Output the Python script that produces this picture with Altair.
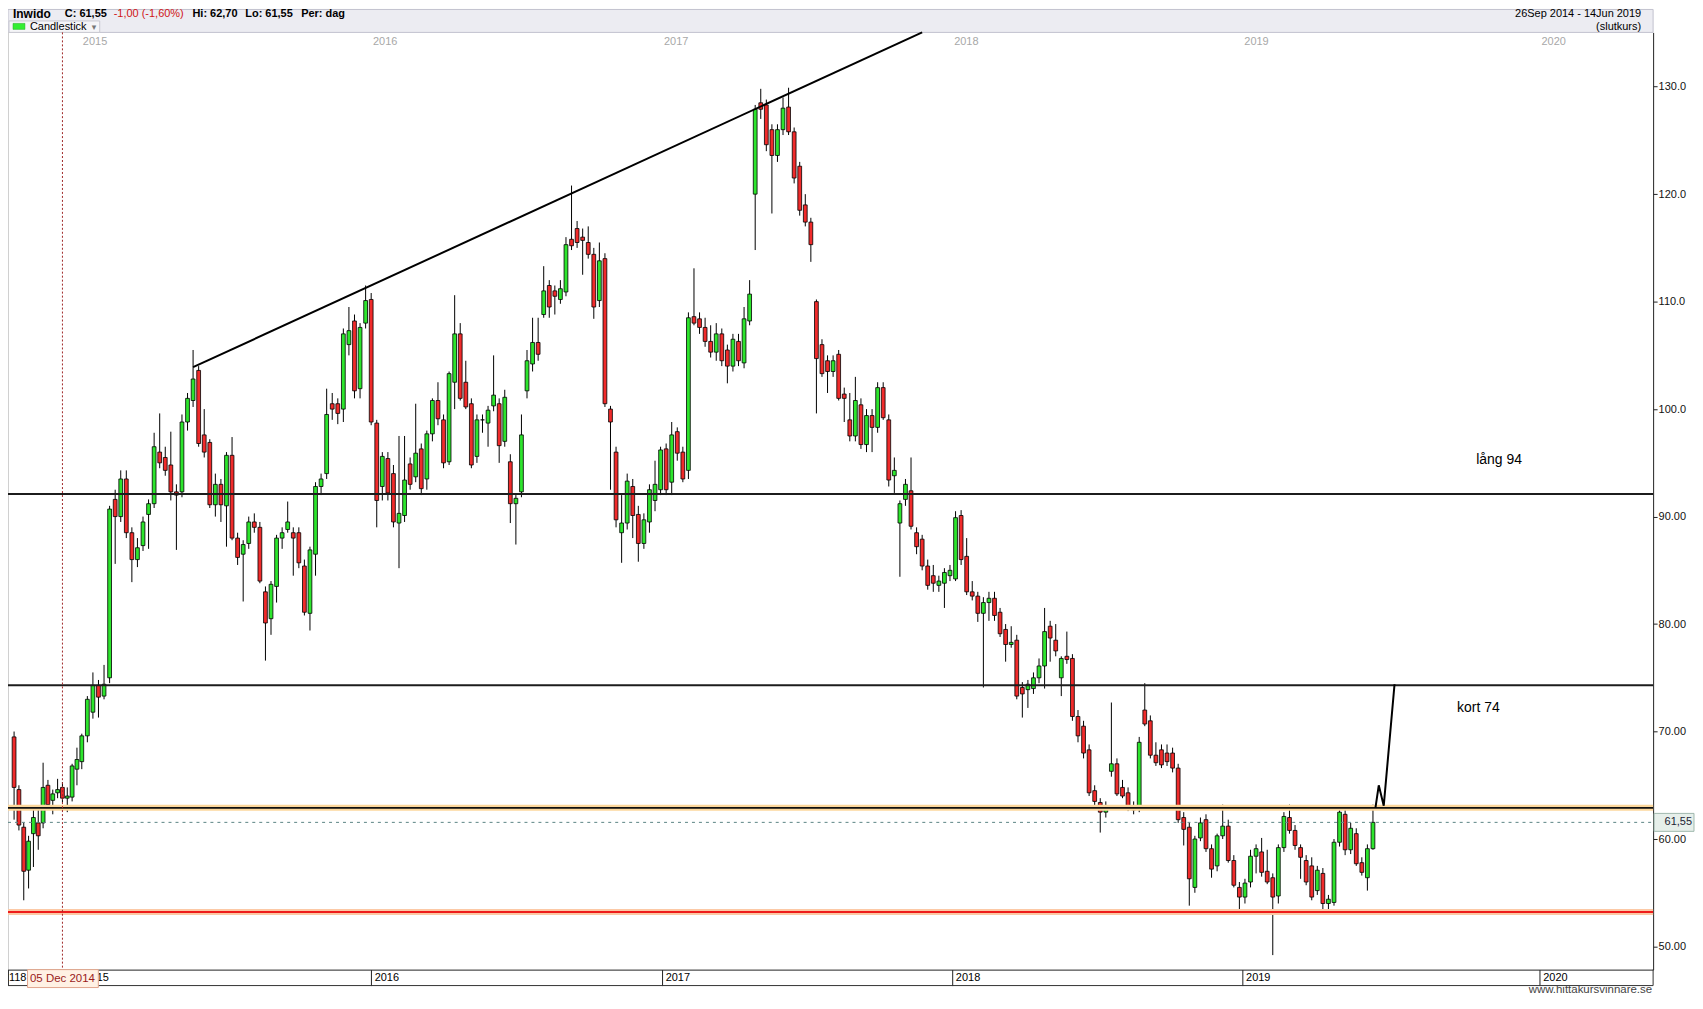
import altair as alt
import pandas as pd

# ---------------- data (weekly candles) ----------------
week_dates = pd.date_range("2014-09-26", "2019-06-14", freq="7D")

opens = [
    69.5, 64.6, 61.1, 57.1, 60.5, 61.5, 61.5, 65.0, 63.6, 64.3,
    64.8, 63.8, 63.9, 66.5, 67.2, 69.6, 71.8, 74.3, 73.3, 75.0,
    91.6, 90.0, 93.5, 88.5, 86.0, 87.3, 90.2, 91.2, 96.0, 95.5,
    94.8, 92.3, 92.3, 98.8, 100.8, 103.6, 97.6, 96.9, 91.1, 93.0,
    91.0, 95.7, 88.0, 86.5, 87.5, 89.5, 89.0, 83.0, 80.5, 83.5,
    88.0, 88.8, 88.5, 88.5, 85.4, 81.0, 86.5, 92.8, 94.0, 100.5,
    100.5, 100.0, 106.0, 108.2, 101.9, 108.0, 110.2, 98.7, 92.8, 95.4,
    94.0, 89.4, 90.1, 94.9, 93.7, 96.3, 93.5, 97.7, 100.8, 99.0,
    95.1, 102.5, 107.0, 102.5, 100.5, 95.6, 99.0, 98.7, 100.3, 100.5,
    97.0, 95.1, 91.2, 92.3, 101.7, 104.2, 106.2, 108.8, 111.5, 111.0,
    110.2, 110.9, 115.8, 116.8, 116.0, 115.5, 114.4, 110.1, 114.0, 100.0,
    96.0, 88.5, 89.4, 92.8, 90.2, 87.5, 89.5, 91.5, 92.5, 96.3,
    93.2, 97.9, 96.0, 94.3, 108.6, 108.4, 107.6, 106.3, 105.3, 107.0,
    105.5, 104.0, 106.3, 104.3, 108.2, 120.0, 128.5, 128.3, 126.0, 123.6,
    126.0, 128.1, 125.8, 122.6, 119.0, 117.4, 110.0, 106.0, 104.5, 103.5,
    105.1, 101.4, 99.0, 97.5, 100.4, 96.7, 99.4, 98.3, 102.0, 99.0,
    93.8, 89.4, 91.6, 92.4, 88.5, 87.9, 85.4, 84.5, 83.6, 83.8,
    84.5, 84.2, 90.1, 86.3, 83.0, 82.6, 81.0, 82.0, 82.4, 81.1,
    79.5, 78.1, 78.5, 74.1, 73.9, 74.0, 75.0, 76.1, 79.8, 78.5,
    75.0, 77.0, 76.8, 71.4, 70.5, 68.3, 64.5, 63.4, 62.5, 66.3,
    67.0, 64.8, 64.3, 63.0, 62.9, 72.0, 71.0, 67.8, 68.3, 68.0,
    68.0, 66.6, 62.0, 61.1, 55.5, 60.1, 61.8, 59.1, 57.5, 60.3,
    61.2, 58.0, 55.5, 54.6, 56.0, 58.4, 58.8, 57.0, 56.4, 54.7,
    59.2, 62.0, 60.8, 59.2, 58.0, 57.5, 55.2, 56.8, 54.0, 54.1,
    59.7, 62.3, 59.0, 60.5, 57.8, 56.4, 59.1,
]
highs = [
    70.0, 65.0, 61.5, 60.3, 62.8, 63.0, 67.1, 65.5, 64.6, 65.6,
    65.3, 64.8, 67.0, 68.5, 69.8, 73.3, 75.5, 74.8, 76.2, 91.0,
    92.5, 94.3, 94.3, 89.0, 88.0, 90.0, 91.6, 97.8, 99.6, 96.5,
    97.9, 93.0, 99.5, 101.5, 105.5, 104.0, 100.0, 97.2, 94.0, 93.5,
    96.0, 97.4, 88.5, 87.8, 90.0, 90.3, 89.5, 83.5, 84.0, 88.3,
    89.0, 91.4, 89.0, 89.0, 86.0, 87.2, 93.2, 94.0, 101.9, 101.5,
    101.0, 107.5, 109.5, 108.8, 108.0, 111.5, 110.8, 99.0, 96.0, 96.0,
    94.8, 97.5, 97.5, 95.5, 100.5, 96.8, 98.0, 101.0, 102.5, 99.5,
    103.5, 110.6, 108.0, 104.5, 101.0, 99.5, 99.5, 100.3, 105.0, 101.0,
    101.8, 95.8, 92.0, 99.5, 105.5, 108.5, 108.5, 113.3, 112.0, 111.5,
    112.0, 116.0, 120.8, 117.5, 116.8, 117.0, 115.0, 115.5, 114.5, 100.3,
    96.5, 92.0, 94.0, 93.5, 91.0, 90.3, 93.0, 95.2, 96.5, 96.8,
    98.8, 98.3, 96.5, 109.0, 113.1, 109.0, 108.5, 107.8, 108.0, 107.5,
    106.0, 107.0, 107.0, 109.5, 112.0, 128.3, 129.8, 128.8, 126.5, 126.5,
    129.0, 129.9, 126.2, 123.0, 120.0, 117.8, 110.2, 106.5, 105.0, 105.0,
    105.5, 102.0, 101.5, 103.0, 101.0, 100.0, 100.0, 102.5, 102.5, 99.5,
    95.5, 91.5, 93.5, 95.5, 89.0, 88.3, 86.0, 85.5, 84.5, 85.2,
    85.5, 90.5, 90.6, 88.0, 84.0, 83.0, 82.5, 83.0, 83.0, 81.5,
    80.0, 79.8, 79.0, 74.6, 74.8, 75.5, 76.8, 81.5, 80.3, 80.0,
    77.0, 79.3, 77.2, 72.0, 71.0, 68.8, 65.0, 63.8, 63.5, 72.7,
    67.5, 65.5, 64.8, 63.5, 69.5, 74.5, 71.5, 69.0, 68.8, 68.8,
    68.5, 67.0, 62.5, 61.5, 60.3, 62.0, 62.3, 59.5, 60.5, 63.2,
    61.8, 58.5, 56.0, 56.3, 59.0, 59.5, 60.1, 59.0, 56.8, 59.5,
    62.5, 63.2, 61.3, 59.5, 58.5, 58.3, 57.5, 57.3, 54.8, 60.0,
    63.1, 62.8, 61.5, 61.0, 58.3, 59.5, 63.2,
]
lows = [
    61.8, 60.8, 54.3, 55.4, 57.4, 59.0, 61.0, 62.8, 62.3, 63.8,
    63.4, 62.5, 63.5, 65.0, 66.5, 69.0, 71.2, 71.3, 73.0, 74.5,
    85.6, 89.5, 88.0, 83.9, 85.3, 86.8, 87.0, 90.8, 94.5, 93.8,
    91.5, 86.9, 91.8, 98.0, 100.2, 96.5, 95.5, 90.8, 90.0, 89.5,
    87.2, 87.8, 85.5, 82.1, 87.0, 88.5, 83.8, 76.6, 79.0, 82.0,
    87.0, 88.5, 84.5, 85.2, 80.8, 79.4, 84.5, 92.0, 93.5, 99.0,
    98.6, 98.8, 105.0, 101.0, 101.0, 107.5, 98.5, 89.0, 91.5, 91.5,
    89.0, 85.2, 89.5, 92.5, 93.2, 92.0, 92.5, 97.0, 98.5, 94.5,
    94.8, 100.0, 100.8, 100.0, 94.5, 95.0, 97.8, 96.5, 99.8, 95.0,
    96.5, 89.4, 87.4, 91.8, 101.0, 103.5, 104.5, 108.5, 108.5, 108.8,
    109.8, 110.5, 114.8, 115.0, 112.5, 114.0, 108.4, 109.5, 100.2, 92.5,
    89.0, 85.7, 88.8, 88.0, 85.8, 87.0, 88.5, 90.5, 92.0, 92.0,
    92.0, 95.2, 93.2, 93.5, 107.8, 107.0, 105.8, 104.8, 104.5, 104.0,
    102.4, 103.5, 104.0, 103.8, 107.8, 114.8, 127.0, 124.0, 118.2, 123.0,
    125.5, 125.5, 121.0, 118.0, 117.0, 113.7, 99.6, 103.0, 101.5, 103.0,
    100.8, 98.8, 97.0, 97.0, 96.3, 96.0, 96.0, 97.8, 99.0, 92.8,
    92.2, 84.4, 91.0, 88.8, 86.5, 85.0, 83.2, 83.0, 83.0, 81.5,
    84.0, 84.0, 85.5, 82.7, 82.2, 80.2, 74.1, 80.3, 80.3, 78.8,
    76.5, 77.8, 73.0, 71.3, 72.2, 73.5, 74.5, 74.0, 76.5, 77.0,
    73.3, 76.3, 71.0, 69.0, 67.5, 64.0, 63.0, 60.6, 62.0, 65.8,
    64.0, 63.8, 62.6, 62.3, 62.5, 70.5, 67.5, 66.8, 66.6, 66.8,
    66.2, 61.5, 59.4, 53.8, 55.0, 59.8, 58.8, 56.4, 57.0, 60.0,
    57.8, 55.5, 53.0, 54.0, 55.5, 56.8, 56.5, 55.8, 49.2, 54.0,
    58.8, 60.5, 59.0, 56.3, 55.7, 54.3, 54.8, 53.0, 53.3, 53.8,
    59.3, 58.5, 58.6, 57.5, 56.6, 55.2, 59.0,
]
closes = [
    64.8, 61.3, 57.0, 59.8, 62.0, 60.3, 64.8, 63.2, 64.2, 64.6,
    63.8, 64.0, 66.8, 67.4, 69.6, 73.0, 74.3, 73.2, 74.4, 90.7,
    90.0, 93.5, 88.5, 86.0, 87.1, 89.5, 91.2, 96.5, 95.0, 94.3,
    92.3, 92.0, 98.8, 101.0, 102.8, 96.8, 96.0, 91.1, 93.0, 91.1,
    95.7, 88.0, 86.2, 87.4, 89.5, 89.0, 84.0, 80.1, 83.7, 88.0,
    88.5, 89.5, 88.0, 85.7, 81.1, 86.9, 92.8, 93.5, 99.5, 100.0,
    99.6, 107.0, 107.3, 101.7, 107.6, 110.1, 98.8, 91.5, 95.6, 92.2,
    89.5, 90.3, 93.4, 93.0, 95.9, 92.6, 97.7, 100.8, 99.1, 95.0,
    103.3, 107.0, 101.0, 100.2, 94.8, 99.0, 99.0, 99.9, 101.3, 96.6,
    101.1, 91.2, 91.7, 97.6, 104.5, 106.2, 105.1, 111.0, 109.5, 110.5,
    111.2, 115.3, 115.2, 115.5, 115.7, 114.4, 109.5, 113.8, 100.5, 98.8,
    89.7, 89.4, 93.3, 90.1, 87.5, 89.7, 92.5, 93.0, 96.2, 92.5,
    97.6, 95.9, 93.5, 108.5, 108.0, 107.6, 106.3, 105.3, 107.0, 104.5,
    104.0, 106.5, 104.5, 108.4, 110.7, 127.9, 127.9, 124.6, 123.6, 126.0,
    128.0, 125.8, 121.5, 118.5, 117.4, 115.3, 104.7, 103.3, 103.5, 104.5,
    101.0, 101.0, 97.5, 100.8, 96.7, 99.4, 98.3, 102.0, 99.2, 93.4,
    94.3, 91.2, 93.0, 89.1, 87.2, 85.4, 83.6, 83.8, 84.0, 84.8,
    85.0, 89.9, 86.0, 83.0, 82.6, 81.0, 82.0, 82.4, 80.8, 79.1,
    78.1, 78.3, 73.3, 73.5, 74.4, 75.0, 76.1, 79.3, 78.7, 77.5,
    76.8, 76.7, 71.4, 69.6, 68.0, 64.3, 63.5, 62.5, 63.1, 67.0,
    64.2, 64.0, 62.9, 62.7, 69.0, 70.7, 67.8, 67.1, 66.9, 67.2,
    66.6, 61.8, 60.9, 56.3, 60.0, 61.5, 59.1, 57.2, 60.3, 61.2,
    58.0, 55.7, 54.6, 55.9, 58.4, 59.1, 56.9, 56.0, 54.6, 59.2,
    62.1, 60.8, 59.4, 58.3, 56.0, 54.6, 57.1, 54.0, 54.4, 59.7,
    62.5, 59.0, 61.0, 57.7, 56.9, 59.1, 61.55,
]

# drawn lines / levels
level_dark = [92.1, 74.3]          # "lång 94" and "kort 74" lines
level_gold = [62.9]
level_red = [53.2]
last_close = [61.55]
trend_dates = ["2015-05-22", "2017-11-24"]
trend_values = [103.9, 135.05]
proj_dates = ["2019-06-17", "2019-06-21", "2019-06-27", "2019-07-10"]
proj_values = [62.9, 65.0, 63.1, 74.4]
label_dates = ["2019-11-13", "2019-10-19"]
label_values = [95.3, 72.15]
label_texts = ["lång 94", "kort 74"]
year_starts = ["2015-01-01", "2016-01-01", "2017-01-01", "2018-01-01", "2019-01-01", "2020-01-01"]
year_texts = ["2015", "2016", "2017", "2018", "2019", "2020"]
marker_date = ["2014-12-05"]

# ---------------- x position: days since first session ----------------
BASE = pd.Timestamp("2014-09-26")

def days(values):
    return [(pd.Timestamp(v) - BASE).days for v in values]

# the source chart squeezes the first weeks a little and shows calendar time after the last
# session, so the day axis is mapped piecewise onto the plot width
x_scale = alt.Scale(
    domain=[-2.5] + days(["2015-01-02", "2019-06-14", "2020-01-01"]) + [2064.5],
    range=[0, 74, 1369, 1536.3, 1650],
    nice=False, zero=False,
)

# ---------------- styling ----------------
W, H = 1650, 940
GREEN = "#2de52d"
RED = "#f02b2b"
FONT = "Liberation Sans"

y_scale = alt.Scale(domain=[47.85, 135.05], nice=False, zero=False)

x_axis = alt.Axis(
    values=days(year_starts),
    labelExpr="'' + (2015 + round((datum.value - 97) / 365.25))",
    labelAlign="left", labelBaseline="middle", labelPadding=-8, labelOffset=3,
    tickSize=16, tickColor="#222", tickWidth=1, domainColor="#222", domainWidth=1,
    labelColor="black", labelFont=FONT, labelFontSize=11,
    labelFlush=False, labelOverlap=False, grid=False, title=None,
)
y_axis = alt.Axis(
    orient="right", values=list(range(50, 131, 10)),
    labelExpr="datum.value >= 100 ? format(datum.value, '.1f') : format(datum.value, '.2f')",
    tickSize=4, tickColor="#222", domainColor="#222", labelPadding=1,
    labelFont=FONT, labelFontSize=11, labelColor="#111", grid=False, title=None,
)

df = pd.DataFrame({"d": days(week_dates), "open": opens, "high": highs, "low": lows, "close": closes})
one = pd.DataFrame({"k": [0]})

def txt(text, x, y, size=11, weight="normal", color="black", align="left", font=FONT):
    return alt.Chart(one).mark_text(
        text=text, align=align, baseline="middle", fontSize=size, fontWeight=weight, color=color, font=font
    ).encode(x=alt.value(x), y=alt.value(y))

layers = []

# header
layers.append(alt.Chart(one).mark_rect(fill="#ececf2", stroke="#c2c2ce", strokeWidth=1).encode(
    x=alt.value(0), x2=alt.value(W), y=alt.value(-23), y2=alt.value(0)))
layers.append(alt.Chart(one).mark_rect(fill="#f5f5f8", stroke="#c8c8d2", strokeWidth=1).encode(
    x=alt.value(1), x2=alt.value(92), y=alt.value(-11.5), y2=alt.value(0)))
layers.append(alt.Chart(one).mark_rect(fill="#33ee33", stroke="#22aa22", strokeWidth=0.5).encode(
    x=alt.value(5), x2=alt.value(17), y=alt.value(-9), y2=alt.value(-3)))
layers += [
    txt("Inwido", 5, -18, size=12, weight="bold"),
    txt("C: 61,55", 57, -18, weight="bold"),
    txt("-1,00 (-1,60%)", 106, -18, color="#d01515"),
    txt("Hi: 62,70", 185, -18, weight="bold"),
    txt("Lo: 61,55", 238, -18, weight="bold"),
    txt("Per: dag", 294, -18, weight="bold"),
    txt("Candlestick", 22, -5.5),
    txt("▾", 84, -5.5, size=9, color="#777", font="DejaVu Sans"),
    txt("26Sep 2014 - 14Jun 2019", 1638, -18, align="right"),
    txt("(slutkurs)", 1638, -5.5, align="right"),
]

# plot left boundary
layers.append(alt.Chart(one).mark_rule(color="#d0d0d0", strokeWidth=1).encode(
    x=alt.value(0.5), y=alt.value(0), y2=alt.value(H)))

# top gray year labels
years_df = pd.DataFrame({"d": days(year_starts), "text": year_texts})
layers.append(alt.Chart(years_df).mark_text(dx=14, color="#a8a8a8", fontSize=11, font=FONT).encode(
    x=alt.X("d:Q", title=None), y=alt.value(10), text="text:N"))

# candles
wicks = alt.Chart(df).mark_rule(color="black", strokeWidth=1).encode(
    x=alt.X("d:Q", scale=x_scale, axis=x_axis, title=None),
    y=alt.Y("low:Q", scale=y_scale, axis=y_axis, title=None),
    y2="high:Q",
)
bodies = alt.Chart(df).mark_bar(size=3.8, stroke="black", strokeWidth=0.8).encode(
    x=alt.X("d:Q", title=None),
    y=alt.Y("open:Q", title=None),
    y2="close:Q",
    fill=alt.condition("datum.open <= datum.close", alt.value(GREEN), alt.value(RED)),
)
layers += [wicks, bodies]

# horizontal levels
def hline(values, color, width, dash=None):
    kw = dict(color=color, strokeWidth=width)
    if dash:
        kw["strokeDash"] = dash
    return alt.Chart(pd.DataFrame({"value": values})).mark_rule(**kw).encode(
        x=alt.value(0), x2=alt.value(W), y=alt.Y("value:Q", title=None))

layers += [
    hline(last_close, "#5b8585", 1, [3, 4]),
    hline(level_dark, "#1c1c1c", 2),
    hline(level_gold, "#fcd79c", 6),
    hline(level_gold, "#111111", 1.8),
    hline(level_red, "#fcc9a6", 6),
    hline(level_red, "#ee1c1c", 2),
]

# trend line and projection
trend_df = pd.DataFrame({"d": days(trend_dates), "value": trend_values})
proj_df = pd.DataFrame({"d": days(proj_dates), "value": proj_values})
for d in (trend_df, proj_df):
    layers.append(alt.Chart(d).mark_line(color="black", strokeWidth=2).encode(
        x=alt.X("d:Q", title=None), y=alt.Y("value:Q", title=None)))

# level labels
lbl_df = pd.DataFrame({"d": days(label_dates), "value": label_values, "text": label_texts})
layers.append(alt.Chart(lbl_df).mark_text(fontSize=14, font=FONT, color="black").encode(
    x=alt.X("d:Q", title=None), y=alt.Y("value:Q", title=None), text="text:N"))

# bottom band borders
layers += [
    alt.Chart(one).mark_rule(color="#333", strokeWidth=1).encode(x=alt.value(0), x2=alt.value(W), y=alt.value(H + 16)),
    alt.Chart(one).mark_rule(color="#333", strokeWidth=1).encode(x=alt.value(0.5), y=alt.value(H), y2=alt.value(H + 16)),
    alt.Chart(one).mark_rule(color="#333", strokeWidth=1).encode(x=alt.value(W), y=alt.value(H), y2=alt.value(H + 16)),
]
layers.append(txt("118", 1, H + 8))

# cross-hair date marker
mk_df = pd.DataFrame({"d": days(marker_date)})
layers.append(alt.Chart(mk_df).mark_rule(color="#a02828", strokeWidth=1, strokeDash=[2, 2]).encode(
    x=alt.X("d:Q", title=None), y=alt.value(0), y2=alt.value(H)))
layers.append(alt.Chart(mk_df).mark_rect(fill="#fff1e4", stroke="#e0a48c", strokeWidth=1, xOffset=-35, x2Offset=36).encode(
    x=alt.X("d:Q", title=None), x2="d:Q", y=alt.value(H), y2=alt.value(H + 18)))
layers.append(alt.Chart(mk_df).mark_text(text="05 Dec 2014", color="#9a1b1b", fontSize=11.5, font=FONT, baseline="middle").encode(
    x=alt.X("d:Q", title=None), y=alt.value(H + 9)))

# last price box on the right axis
pb = alt.Chart(pd.DataFrame({"value": last_close})).transform_calculate(
    hi="datum.value + 0.835", lo="datum.value - 0.835")
layers.append(pb.mark_rect(fill="#e6efea", stroke="#9fb8ae", strokeWidth=1).encode(
    x=alt.value(W + 1), x2=alt.value(W + 41), y=alt.Y("hi:Q", title=None), y2="lo:Q"))
layers.append(alt.Chart(pd.DataFrame({"value": last_close})).mark_text(
    text="61,55", align="right", baseline="middle", fontSize=11, font=FONT, color="#223").encode(
    x=alt.value(W + 39), y=alt.Y("value:Q", title=None)))

# source
layers.append(txt("www.hittakursvinnare.se", W - 1, H + 20, size=11.5, color="#444", align="right"))

chart = alt.layer(*layers).properties(
    width=W, height=H,
    padding={"left": 0, "top": 23, "right": 42, "bottom": 25},
    autosize=alt.AutoSizeParams(type="none"),
).configure_view(stroke=None)

chart.save("out.html", embed_options={"renderer": "svg", "actions": False})
